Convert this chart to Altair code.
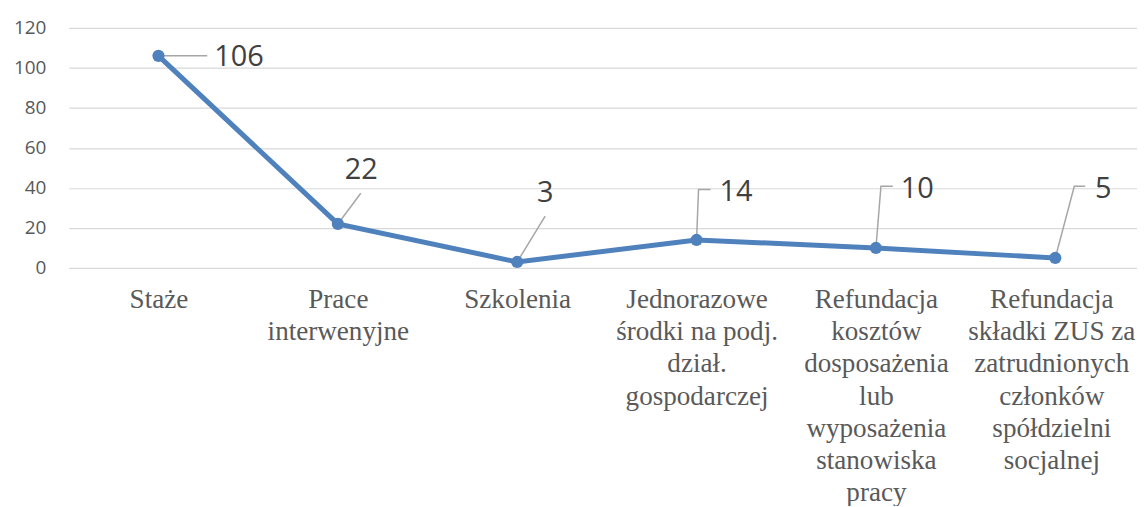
import json
import altair as alt
import pandas as pd

# ---- data ----
categories = [
    "Staże",
    "Prace|interwenyjne",
    "Szkolenia",
    "Jednorazowe|środki na podj.|dział.|gospodarczej",
    "Refundacja|kosztów|dosposażenia|lub|wyposażenia|stanowiska|pracy",
    "Refundacja|składki ZUS za|zatrudnionych|członków|spółdzielni|socjalnej",
]
values = [106, 22, 3, 14, 10, 5]
y_ticks = [0, 20, 40, 60, 80, 100, 120]

# data-label placement (x in category-index units, y in data units)
label_x = [0.311, 1.039, 2.111, 3.128, 4.139, 5.222]
label_y = [105.5, 48.8, 37.3, 38.1, 39.3, 39.3]

# leader lines: list of (x, y) vertices per label
leader_paths = [
    [(0.0, 106), (0.272, 106)],
    [(1.0, 22), (1.128, 37.3)],
    [(2.0, 3), (2.156, 25.9)],
    [(3.0, 14), (3.011, 39.2), (3.078, 39.2)],
    [(4.0, 10), (4.028, 40.8), (4.094, 40.8)],
    [(5.0, 5), (5.106, 40.8), (5.167, 40.8)],
]

idx = list(range(len(categories)))
df = pd.DataFrame({"i": idx, "v": values})
df_lab = pd.DataFrame({"x": label_x, "y": label_y, "t": [str(v) for v in values]})
rows = []
for k, path in enumerate(leader_paths):
    for order, (px, py) in enumerate(path):
        rows.append({"g": k, "o": order, "x": px, "y": py})
df_lead = pd.DataFrame(rows)

W, H = 1072, 241
step = 180.0
x0 = -90.0 / step
x1 = x0 + W / step
xscale = alt.Scale(domain=[x0, x1], nice=False, zero=False)
yscale = alt.Scale(domain=[0, 120], nice=False, zero=True)

names_js = json.dumps(categories, ensure_ascii=False)
label_expr = f"split({names_js}[datum.value], '|')"
last = len(categories) - 1

x_axis = alt.Axis(
    values=idx, labelExpr=label_expr, title=None, grid=False,
    labelOffset={"condition": {"test": f"datum.value == {last}", "value": -4}, "value": 0},
)
y_axis = alt.Axis(values=y_ticks, title=None, grid=True)

base_line = alt.Chart(df).mark_line(color="#4f81bd", strokeWidth=5).encode(
    x=alt.X("i:Q", scale=xscale, axis=x_axis),
    y=alt.Y("v:Q", scale=yscale, axis=y_axis),
)
pts = alt.Chart(df).mark_point(filled=True, opacity=1, color="#4f81bd", size=150).encode(
    x=alt.X("i:Q", scale=xscale, axis=x_axis),
    y=alt.Y("v:Q", scale=yscale, axis=y_axis),
)
leaders = alt.Chart(df_lead).mark_line(color="#a6a6a6", strokeWidth=1.5).encode(
    x=alt.X("x:Q", scale=xscale, axis=x_axis),
    y=alt.Y("y:Q", scale=yscale, axis=y_axis),
    detail="g:N",
    order="o:Q",
)
labels = alt.Chart(df_lab).mark_text(
    align="left", baseline="middle", font="Open Sans", fontSize=29, color="#404040"
).encode(
    x=alt.X("x:Q", scale=xscale, axis=x_axis),
    y=alt.Y("y:Q", scale=yscale, axis=y_axis),
    text="t:N",
)

chart = alt.layer(base_line, leaders, pts, labels).properties(
    width=W, height=H,
    autosize=alt.AutoSizeParams(type="none"),
    padding={"left": 61, "top": 19, "right": 0, "bottom": 238},
).configure_view(stroke=None).configure_axisX(
    domain=False, ticks=False, labelFont="Liberation Serif", labelFontSize=27.2,
    labelColor="#595959", labelLineHeight=32.2, labelPadding=19,
    labelOverlap=False, labelFlush=False, labelBaseline="top",
).configure_axisY(
    gridColor="#d9d9d9", gridWidth=1.2, domain=False, ticks=False,
    labelFont="Open Sans", labelFontSize=19, labelColor="#595959", labelPadding=23,
)

chart.save("out.html", embed_options={"renderer": "svg", "actions": False})
